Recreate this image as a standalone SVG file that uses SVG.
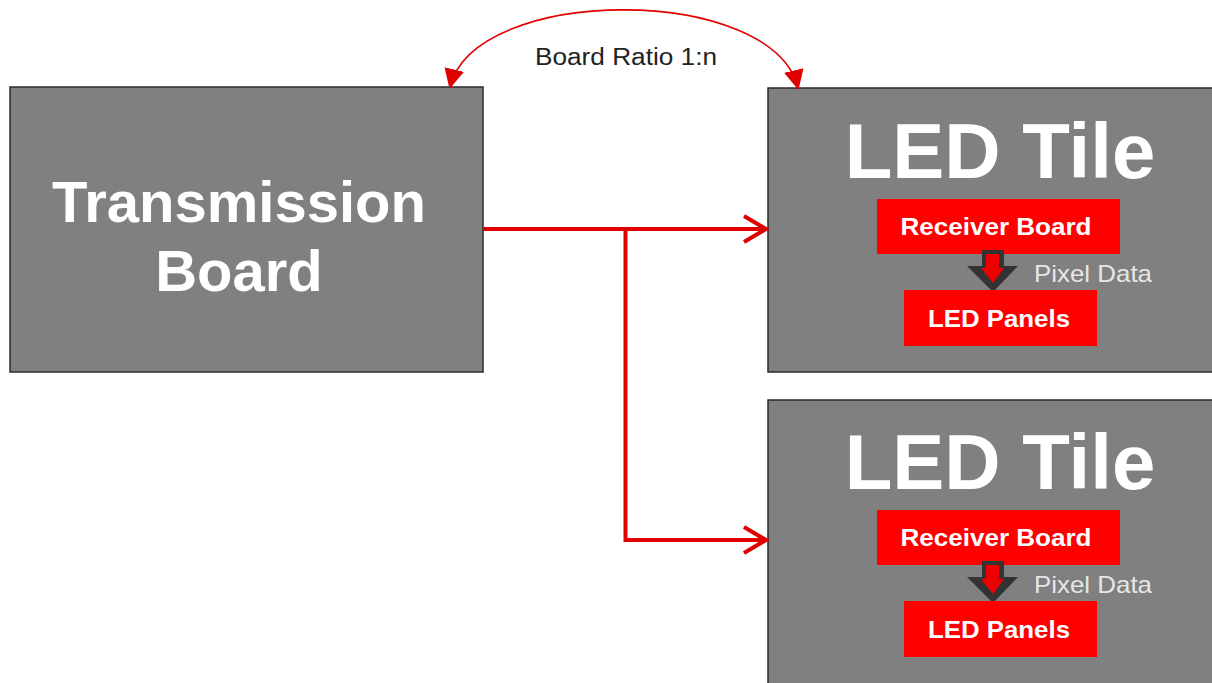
<svg xmlns="http://www.w3.org/2000/svg" width="1212" height="683" viewBox="0 0 1212 683">
<style>
.box{fill:#808080;stroke:#2b2b2b;stroke-width:1.5}
.red{fill:#ff0000}
.big{font-family:"Liberation Sans",Arial,sans-serif;font-weight:bold;fill:#ffffff}
.lbl{font-family:"Liberation Sans",Arial,sans-serif;font-weight:bold;fill:#ffffff;font-size:24px}
.pix{font-family:"Liberation Sans",Arial,sans-serif;fill:#e6e6e6;font-size:24px}
.conn{fill:none;stroke:#e00000;stroke-width:4;stroke-linejoin:miter}
.arc{fill:none;stroke:#e00000;stroke-width:1.6}
</style>
<defs>
<marker id="tri" viewBox="0 0 20 20" refX="18" refY="10" markerWidth="20" markerHeight="20" markerUnits="userSpaceOnUse" orient="auto-start-reverse">
<path d="M0,0 L20,10 L0,20 Z" fill="#e00000"/>
</marker>
<g id="darr">
<polygon points="982,250 1004,250 1004,266 1018,266 993,292 967,266 982,266" fill="#333333"/>
<polygon points="986,254 999,254 999,268 1004,268 993,283 981,268 986,268" fill="#ee0000"/>
</g>
</defs>
<rect width="1212" height="683" fill="#ffffff"/>
<g id="transmission-board">
<rect class="box" x="10" y="87" width="473" height="285"/>
<text class="big" x="239" y="222" font-size="58" text-anchor="middle">Transmission</text>
<text class="big" x="239" y="291" font-size="58" text-anchor="middle">Board</text>
</g>
<g id="led-tile-1">
<rect class="box" x="768" y="88" width="460" height="284"/>
<text class="big" x="1000" y="178" font-size="78" text-anchor="middle">LED Tile</text>
<rect class="red" x="877" y="199" width="243" height="55"/>
<text class="lbl" x="996" y="235" text-anchor="middle" textLength="191" lengthAdjust="spacingAndGlyphs">Receiver Board</text>
<use href="#darr"/>
<rect class="red" x="904" y="290" width="193" height="56"/>
<text class="lbl" x="999" y="327" text-anchor="middle" textLength="142" lengthAdjust="spacingAndGlyphs">LED Panels</text>
<text class="pix" x="1034" y="282" textLength="118" lengthAdjust="spacingAndGlyphs">Pixel Data</text>
</g>
<g id="led-tile-2">
<rect class="box" x="768" y="400" width="460" height="284"/>
<text class="big" x="1000" y="489" font-size="78" text-anchor="middle">LED Tile</text>
<rect class="red" x="877" y="510" width="243" height="55"/>
<text class="lbl" x="996" y="546" text-anchor="middle" textLength="191" lengthAdjust="spacingAndGlyphs">Receiver Board</text>
<use href="#darr" y="311"/>
<rect class="red" x="904" y="601" width="193" height="56"/>
<text class="lbl" x="999" y="638" text-anchor="middle" textLength="142" lengthAdjust="spacingAndGlyphs">LED Panels</text>
<text class="pix" x="1034" y="593" textLength="118" lengthAdjust="spacingAndGlyphs">Pixel Data</text>
</g>
<g id="connectors">
<path class="conn" d="M483,229 H766"/>
<path class="conn" d="M625.5,229 V540 H766"/>
<path class="conn" d="M744,216 L766,229 L744,242"/>
<path class="conn" d="M744,527 L766,540 L744,553"/>
<path class="arc" d="M450,87 C475,-16 773,-16 798,88" marker-start="url(#tri)" marker-end="url(#tri)"/>
<text x="626" y="65" font-family="Liberation Sans, Arial, sans-serif" font-size="23" fill="#222222" text-anchor="middle" textLength="182" lengthAdjust="spacingAndGlyphs">Board Ratio 1:n</text>
</g>
</svg>
